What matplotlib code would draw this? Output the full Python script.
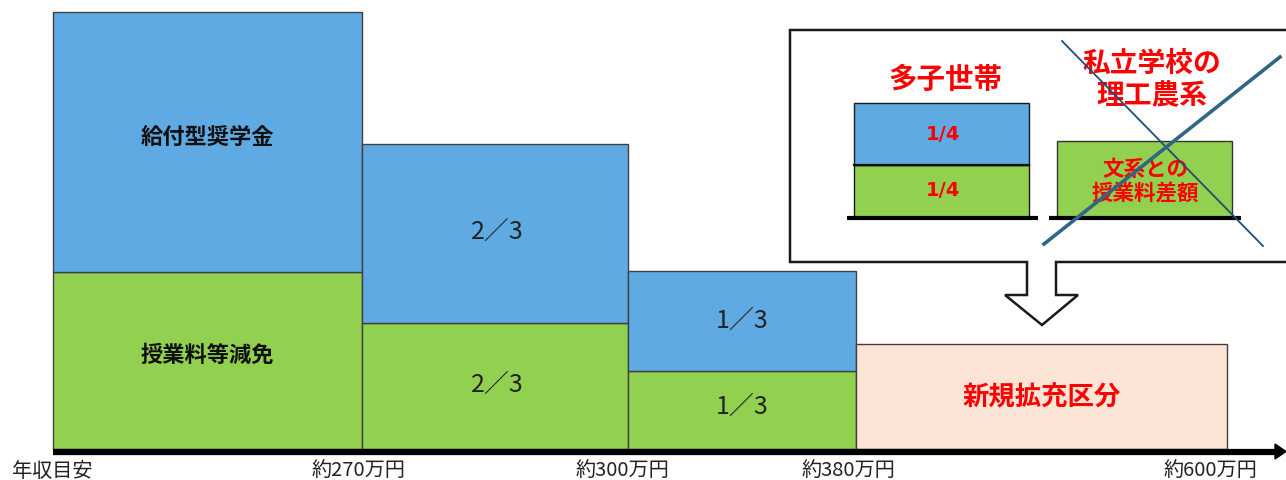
import matplotlib
matplotlib.use("Agg")
import matplotlib.pyplot as plt
from matplotlib.patches import Polygon

plt.rcParams['font.family'] = ['Noto Sans CJK JP', 'DejaVu Sans']

# ---- data ----
band_edges = [53, 362, 628, 856, 1227]            # horizontal band boundaries (display units)
income_labels = ['年収目安', '約270万円', '約300万円', '約380万円', '約600万円']
green_vals = [177, 126, 78]                       # 授業料等減免
blue_vals = [260, 179, 100]                       # 給付型奨学金
green_text = ['授業料等減免', '2／3', '1／3']
blue_text = ['給付型奨学金', '2／3', '1／3']
new_val = 105                                     # 新規拡充区分
new_text = '新規拡充区分'
multi_green, multi_blue = 52, 62                  # 多子世帯 1/4 + 1/4
sci_val = 76                                      # 理工農系

BLUE = '#5FAAE2'
GREEN = '#92D050'
PINK = '#FCE4D6'
RED = '#FF0000'
EDGE = '#404040'

fig = plt.figure(figsize=(12.86, 4.81), dpi=100)
ax = fig.add_axes([0, 0, 1, 1])
ax.set_xlim(0, 1286)
ax.set_ylim(-31, 450)
ax.axis('off')

lefts = band_edges[:3]
widths = [band_edges[i + 1] - band_edges[i] for i in range(3)]
ax.bar(lefts, green_vals, width=widths, align='edge', color=GREEN,
       edgecolor=EDGE, linewidth=1.0, zorder=2)
ax.bar(lefts, blue_vals, width=widths, bottom=green_vals, align='edge',
       color=BLUE, edgecolor=EDGE, linewidth=1.0, zorder=2)
ax.bar([band_edges[3]], [new_val], width=[band_edges[4] - band_edges[3]],
       align='edge', color=PINK, edgecolor=EDGE, linewidth=1.0, zorder=2)

x_shift = [0, 2, 0]
g_off = [6.5, 2, 4]
b_off = [6, 2.5, 1]
for i in range(3):
    cx = lefts[i] + widths[i] / 2 + x_shift[i]
    if i == 0:
        kw = dict(fontsize=16, fontweight='bold', color='#111111')
    else:
        kw = dict(fontsize=18, color='#222222')
    ax.text(cx, green_vals[i] / 2 + g_off[i], green_text[i],
            ha='center', va='center', zorder=3, **kw)
    ax.text(cx, green_vals[i] + blue_vals[i] / 2 + b_off[i], blue_text[i],
            ha='center', va='center', zorder=3, **kw)

ax.text((band_edges[3] + band_edges[4]) / 2, new_val / 2, new_text, ha='center',
        va='center', fontsize=19, fontweight='bold', color=RED, zorder=3)

# axis with arrow
ax.plot([band_edges[0], 1278], [-2.5, -2.5], color='black', lw=4.5,
        solid_capstyle='butt', zorder=4)
ax.add_patch(Polygon([[1275, -10], [1286, -2.5], [1275, 5]], closed=True,
                     color='black', zorder=4))

label_x = [52, 358, 622, 848, 1210]
for x, t in zip(label_x, income_labels):
    ax.text(x, -27, t, ha='center', va='baseline', fontsize=14.5, color='#222222')

# ---- inset box with down arrow ----
box = Polygon([[790, 419], [1300, 419], [1300, 187], [1056, 187], [1056, 154],
               [1078, 154], [1042, 124], [1005, 154], [1027, 154], [1027, 187],
               [790, 187]], closed=True, facecolor='white', edgecolor='#1a1a1a',
              linewidth=1.8, zorder=5)
ax.add_patch(box)

base = 232
ax.bar([854], [multi_green], width=[175], bottom=base, align='edge', color=GREEN,
       edgecolor='#1a1a1a', linewidth=1.0, zorder=6)
ax.bar([854], [multi_blue], width=[175], bottom=base + multi_green, align='edge',
       color=BLUE, edgecolor='#1a1a1a', linewidth=1.0, zorder=6)
ax.plot([854, 1029], [base + multi_green] * 2, color='#111111', lw=1.6, zorder=7)
ax.bar([1057], [sci_val], width=[175], bottom=base, align='edge', color=GREEN,
       edgecolor='#333333', linewidth=1.0, zorder=6)
ax.plot([847, 1038], [base - 1, base - 1], color='black', lw=3, solid_capstyle='butt', zorder=7)
ax.plot([1049, 1241], [base - 1, base - 1], color='black', lw=3, solid_capstyle='butt', zorder=7)

for yy in (base + multi_green / 2 + 1, base + multi_green + multi_blue / 2 + 1):
    ax.text(943, yy, '1/4', ha='center', va='center', family='DejaVu Sans',
            fontsize=14, fontweight='bold', color=RED, zorder=8)
ax.text(945, 370, '多子世帯', ha='center', va='center', fontsize=20.5,
        fontweight='bold', color=RED, zorder=8)
ax.text(1152, 370, '私立学校の\n理工農系', ha='center', va='center', fontsize=20,
        fontweight='bold', color=RED, linespacing=1.2, zorder=8)
ax.text(1145, 268, '文系との\n授業料差額', ha='center', va='center', fontsize=15.5,
        fontweight='bold', color=RED, linespacing=1.2, zorder=8)

# cross-out lines
ax.plot([1062, 1263], [408, 203], color='#1F4E79', lw=1.3, zorder=9)
ax.plot([1044, 1280], [205, 392], color='#2F6585', lw=2.6, zorder=9)

fig.savefig('out.png', dpi=100)
